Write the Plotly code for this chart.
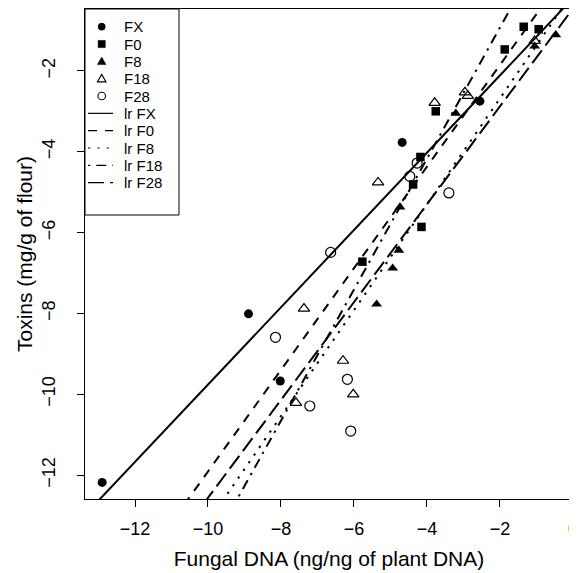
import plotly.graph_objects as go

# ---------------- data ----------------
series_names = ["FX", "F0", "F8", "F18", "F28"]
line_names = ["lr FX", "lr F0", "lr F8", "lr F18", "lr F28"]

fx_x = [-12.90, -8.89, -8.02, -4.68, -2.55]
fx_y = [-12.18, -8.01, -9.67, -3.77, -2.75]

f0_x = [-1.35, -0.94, -1.87, -3.76, -4.18, -4.38, -5.77, -4.15]
f0_y = [-0.91, -0.97, -1.47, -3.00, -4.13, -4.81, -6.72, -5.86]

f8_x = [-0.47, -1.05, -3.21, -4.74, -4.94, -5.38, -4.77]
f8_y = [-1.11, -1.39, -3.05, -5.37, -6.88, -7.77, -6.44]

f18_x = [-3.79, -2.96, -2.88, -1.05, -5.34, -7.37, -6.30, -6.02, -7.59]
f18_y = [-2.79, -2.53, -2.62, -1.26, -4.76, -7.88, -9.17, -10.00, -10.21]

f28_x = [-4.27, -4.47, -3.40, -6.64, -8.15, -6.18, -7.21, -6.09]
f28_y = [-4.28, -4.61, -5.02, -6.49, -8.59, -9.63, -10.29, -10.91]

# regression lines (slope, intercept)
lr_slope = [0.956, 1.257, 1.31, 1.62, 1.21]
lr_intercept = [-0.20, 0.66, -0.06, 2.31, -0.46]

x_ticks = [-12, -10, -8, -6, -4, -2, 0]
y_ticks = [-12, -10, -8, -6, -4, -2]

# ---------------- styling ----------------
OFF = 8                      # page body margin of the browser
W, H = 577 - OFF, 573 - OFF
ML, MR, MT, MB = 85 - OFF, 4, 9 - OFF, 74
X_RANGE = [-13.37, 0.001]
Y_RANGE = [-12.59, -0.47]
FONT = "Liberation Sans, Arial, Helvetica, sans-serif"

marker_styles = [
    dict(symbol="circle", size=9, color="black"),
    dict(symbol="square", size=8.5, color="black"),
    dict(symbol="triangle-up", size=9.5, color="black"),
    dict(symbol="triangle-up-open", size=10, color="black", line=dict(width=1.2, color="black")),
    dict(symbol="circle-open", size=10, color="black", line=dict(width=1.2, color="black")),
]
dash_styles = ["solid", "9px,8px", "2.3px,7px", "2.3px,6px,10px,6px", "16px,6px"]

xs = [fx_x, f0_x, f8_x, f18_x, f28_x]
ys = [fx_y, f0_y, f8_y, f18_y, f28_y]

fig = go.Figure()
for name, x, y, ms in zip(series_names, xs, ys, marker_styles):
    fig.add_trace(go.Scatter(x=x, y=y, mode="markers", name=name,
                             marker=ms, showlegend=False))

for name, m, b, d in zip(line_names, lr_slope, lr_intercept, dash_styles):
    lx = list(X_RANGE)
    ly = [m * v + b for v in lx]
    fig.add_trace(go.Scatter(x=lx, y=ly, mode="lines", name=name,
                             line=dict(color="black", width=2, dash=d),
                             showlegend=False))

# ---------------- custom legend (R style) ----------------
pw, ph = W - ML - MR, H - MT - MB


def px2paper_x(px):
    # px measured in page pixels
    return (px - OFF - ML) / pw


def px2paper_y(py):
    return (H - MB - (py - OFF)) / ph


shapes = []
annotations = []
shapes.append(dict(type="rect", xref="paper", yref="paper",
                   x0=px2paper_x(85), x1=px2paper_x(179),
                   y0=px2paper_y(215), y1=px2paper_y(9),
                   line=dict(color="black", width=1), fillcolor="white",
                   layer="above"))

row0, row_step = 26.7, 17.33
sym_x = px2paper_x(101.7)
text_x = px2paper_x(123)
labels = series_names + line_names
for i, lab in enumerate(labels):
    py = row0 + row_step * i
    yy = px2paper_y(py)
    annotations.append(dict(text=lab, x=text_x, y=yy, xref="paper", yref="paper",
                            xanchor="left", yanchor="middle", showarrow=False,
                            borderpad=0,
                            font=dict(family=FONT, size=15, color="black")))
    if i < 5:
        common = dict(xref="paper", yref="paper", xsizemode="pixel", ysizemode="pixel",
                      xanchor=sym_x, yanchor=yy, layer="above")
        if i == 0:
            shapes.append(dict(type="circle", x0=-3.6, x1=3.6, y0=-3.6, y1=3.6,
                               fillcolor="black", line=dict(color="black", width=0.5), **common))
        elif i == 1:
            shapes.append(dict(type="rect", x0=-3.6, x1=3.6, y0=-3.6, y1=3.6,
                               fillcolor="black", line=dict(color="black", width=0.5), **common))
        elif i == 2:
            shapes.append(dict(type="path", path="M-4.3,-3.2 L4.3,-3.2 L0,4.3 Z",
                               fillcolor="black", line=dict(color="black", width=0.5), **common))
        elif i == 3:
            shapes.append(dict(type="path", path="M-4.3,-3.2 L4.3,-3.2 L0,4.3 Z",
                               fillcolor="rgba(0,0,0,0)", line=dict(color="black", width=1.1), **common))
        else:
            shapes.append(dict(type="circle", x0=-3.8, x1=3.8, y0=-3.8, y1=3.8,
                               fillcolor="rgba(0,0,0,0)", line=dict(color="black", width=1.1), **common))
    else:
        k = i - 5
        shapes.append(dict(type="line", xref="paper", yref="paper",
                           x0=px2paper_x(88), x1=px2paper_x(113), y0=yy, y1=yy,
                           line=dict(color="black", width=1.2, dash=dash_styles[k]),
                           layer="above"))

fig.update_layout(
    width=W, height=H,
    margin=dict(l=ML, r=MR, t=MT, b=MB, autoexpand=False),
    paper_bgcolor="white", plot_bgcolor="white",
    font=dict(family=FONT, size=18, color="black"),
    showlegend=False,
    shapes=shapes,
    annotations=annotations,
    xaxis=dict(range=X_RANGE, tickvals=x_ticks, ticks="outside", ticklen=7,
               tickwidth=1, tickcolor="black", showgrid=False, zeroline=False,
               showline=True, mirror=True, linecolor="black", linewidth=1.2,
               tickfont=dict(size=18), ticklabelstandoff=6, ticklabeloverflow="allow",
               title=dict(text="Fungal DNA (ng/ng of plant DNA)", font=dict(size=21), standoff=13)),
    yaxis=dict(range=Y_RANGE, tickvals=y_ticks, ticks="outside", ticklen=7,
               tickwidth=1, tickcolor="black", showgrid=False, zeroline=False,
               showline=True, mirror=True, linecolor="black", linewidth=1.2,
               tickangle=-90, tickfont=dict(size=18), ticklabelstandoff=15,
               title=dict(text="Toxins (mg/g of flour)", font=dict(size=21), standoff=0)),
)

fig.write_html("out.html")
